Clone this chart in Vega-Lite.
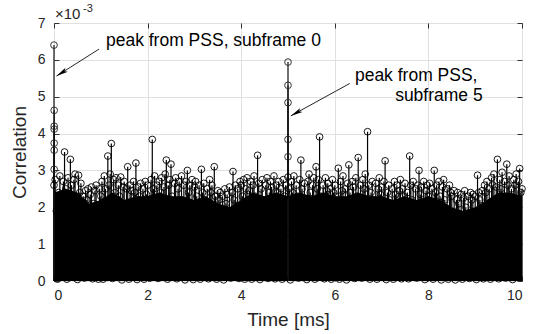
{
  "$schema": "https://vega.github.io/schema/vega-lite/v6.json",
  "width": 468,
  "height": 258,
  "autosize": {"type": "none"},
  "padding": {"left": 54, "top": 23, "right": 19, "bottom": 53},
  "background": "white",
  "config": {
    "view": {"stroke": "#333333", "strokeWidth": 1},
    "font": "Liberation Sans",
    "axis": {
      "domain": false,
      "gridColor": "#e0e0e0",
      "gridWidth": 1,
      "labelColor": "#262626",
      "labelFontSize": 14,
      "labelFont": "Liberation Sans",
      "titleColor": "#262626",
      "titleFontSize": 19,
      "titleFontWeight": "normal",
      "titleFont": "Liberation Sans",
      "tickColor": "#333333",
      "tickSize": -5
    }
  },
  "datasets": {
    "body": [
      {"t":0,"c":2.4},{"t":0.25,"c":2.5},{"t":0.5,"c":2.4},{"t":0.75,"c":2.1},{"t":1,"c":2.2},{"t":1.25,"c":2.4},{"t":1.5,"c":2.2},{"t":1.75,"c":2.3},
      {"t":2,"c":2.3},{"t":2.25,"c":2.4},{"t":2.5,"c":2.3},{"t":2.75,"c":2.3},{"t":3,"c":2.2},{"t":3.25,"c":2.3},{"t":3.5,"c":2.1},{"t":3.75,"c":2.0},
      {"t":4,"c":2.2},{"t":4.25,"c":2.4},{"t":4.5,"c":2.3},{"t":4.75,"c":2.4},{"t":5,"c":2.3},{"t":5.25,"c":2.4},{"t":5.5,"c":2.3},{"t":5.75,"c":2.4},
      {"t":6,"c":2.3},{"t":6.25,"c":2.3},{"t":6.5,"c":2.4},{"t":6.75,"c":2.3},{"t":7,"c":2.3},{"t":7.25,"c":2.2},{"t":7.5,"c":2.3},{"t":7.75,"c":2.2},
      {"t":8,"c":2.3},{"t":8.25,"c":2.2},{"t":8.5,"c":2.0},{"t":8.75,"c":1.9},{"t":9,"c":2.0},{"t":9.25,"c":2.2},{"t":9.5,"c":2.4},{"t":9.75,"c":2.4},{"t":10,"c":2.3}
    ],
    "noise": [
      {"t":0,"c":2.6},{"t":0.025,"c":2.75},{"t":0.05,"c":1.9},{"t":0.075,"c":0.05},{"t":0.1,"c":2.4},{"t":0.125,"c":2.85},{"t":0.15,"c":2.2},{"t":0.175,"c":1.3},{"t":0.2,"c":2.7},{"t":0.225,"c":3.5},
      {"t":0.25,"c":2.5},{"t":0.275,"c":0.05},{"t":0.3,"c":2.8},{"t":0.325,"c":2.3},{"t":0.35,"c":3.3},{"t":0.375,"c":2.6},{"t":0.4,"c":1.1},{"t":0.425,"c":2.75},{"t":0.45,"c":2.9},{"t":0.475,"c":2.1},
      {"t":0.5,"c":0.04},{"t":0.525,"c":2.87},{"t":0.55,"c":2.4},{"t":0.575,"c":2.65},{"t":0.6,"c":1.6},{"t":0.625,"c":2.3},{"t":0.65,"c":0.08},{"t":0.675,"c":2.45},{"t":0.7,"c":2.2},{"t":0.725,"c":2.5},
      {"t":0.75,"c":1.4},{"t":0.775,"c":2.35},{"t":0.8,"c":2.55},{"t":0.825,"c":0.06},{"t":0.85,"c":2.1},{"t":0.875,"c":2.45},{"t":0.9,"c":2.6},{"t":0.925,"c":1.8},{"t":0.95,"c":0.05},{"t":0.975,"c":2.5},
      {"t":1,"c":2.3},{"t":1.025,"c":2.7},{"t":1.05,"c":0.05},{"t":1.075,"c":2.85},{"t":1.1,"c":2.5},{"t":1.125,"c":1.7},{"t":1.15,"c":3.39},{"t":1.175,"c":2.6},{"t":1.2,"c":2.9},{"t":1.225,"c":3.73},
      {"t":1.25,"c":0.07},{"t":1.275,"c":2.75},{"t":1.3,"c":2.4},{"t":1.325,"c":2.8},{"t":1.35,"c":1.2},{"t":1.375,"c":2.6},{"t":1.4,"c":2.3},{"t":1.425,"c":2.82},{"t":1.45,"c":0.03},{"t":1.475,"c":2.55},
      {"t":1.5,"c":2.7},{"t":1.525,"c":2.1},{"t":1.55,"c":2.5},{"t":1.575,"c":3.1},{"t":1.6,"c":0.05},{"t":1.625,"c":2.6},{"t":1.65,"c":2.45},{"t":1.675,"c":1.5},{"t":1.7,"c":2.7},{"t":1.725,"c":2.4},
      {"t":1.75,"c":3.2},{"t":1.775,"c":0.04},{"t":1.8,"c":2.55},{"t":1.825,"c":2.3},{"t":1.85,"c":2.65},{"t":1.875,"c":1.9},{"t":1.9,"c":2.5},{"t":1.925,"c":0.05},{"t":1.95,"c":2.7},{"t":1.975,"c":2.35},
      {"t":2,"c":2.6},{"t":2.025,"c":2.2},{"t":2.05,"c":0.08},{"t":2.075,"c":2.75},{"t":2.1,"c":3.84},{"t":2.125,"c":2.5},{"t":2.15,"c":2.85},{"t":2.175,"c":1.4},{"t":2.2,"c":2.6},{"t":2.225,"c":0.07},
      {"t":2.25,"c":2.7},{"t":2.275,"c":2.4},{"t":2.3,"c":2.8},{"t":2.325,"c":1.8},{"t":2.35,"c":2.55},{"t":2.375,"c":2.9},{"t":2.4,"c":3.28},{"t":2.425,"c":0.05},{"t":2.45,"c":2.6},{"t":2.475,"c":2.75},
      {"t":2.5,"c":3.17},{"t":2.525,"c":2.3},{"t":2.55,"c":1.2},{"t":2.575,"c":2.65},{"t":2.6,"c":2.8},{"t":2.625,"c":0.06},{"t":2.65,"c":2.5},{"t":2.675,"c":2.7},{"t":2.7,"c":2.2},{"t":2.725,"c":2.85},
      {"t":2.75,"c":1.6},{"t":2.775,"c":2.6},{"t":2.8,"c":0.03},{"t":2.825,"c":2.7},{"t":2.85,"c":3.0},{"t":2.875,"c":2.4},{"t":2.9,"c":2.6},{"t":2.925,"c":1.9},{"t":2.95,"c":2.75},{"t":2.975,"c":0.04},
      {"t":3,"c":2.55},{"t":3.025,"c":2.7},{"t":3.05,"c":2.3},{"t":3.075,"c":1.3},{"t":3.1,"c":2.6},{"t":3.125,"c":0.05},{"t":3.15,"c":3.03},{"t":3.175,"c":2.4},{"t":3.2,"c":2.65},{"t":3.225,"c":2.2},
      {"t":3.25,"c":1.7},{"t":3.275,"c":2.5},{"t":3.3,"c":0.06},{"t":3.325,"c":2.75},{"t":3.35,"c":2.4},{"t":3.375,"c":2.6},{"t":3.4,"c":1.1},{"t":3.425,"c":3.1},{"t":3.45,"c":2.3},{"t":3.475,"c":0.05},
      {"t":3.5,"c":2.45},{"t":3.525,"c":2.2},{"t":3.55,"c":2.4},{"t":3.575,"c":1.5},{"t":3.6,"c":2.3},{"t":3.625,"c":0.03},{"t":3.65,"c":2.5},{"t":3.675,"c":2.1},{"t":3.7,"c":2.35},{"t":3.725,"c":1.8},
      {"t":3.75,"c":2.55},{"t":3.775,"c":0.08},{"t":3.8,"c":2.4},{"t":3.825,"c":2.97},{"t":3.85,"c":2.2},{"t":3.875,"c":2.6},{"t":3.9,"c":1.4},{"t":3.925,"c":2.5},{"t":3.95,"c":0.07},{"t":3.975,"c":2.7},
      {"t":4,"c":2.6},{"t":4.025,"c":2.3},{"t":4.05,"c":2.75},{"t":4.075,"c":0.05},{"t":4.1,"c":2.5},{"t":4.125,"c":2.8},{"t":4.15,"c":1.6},{"t":4.175,"c":2.45},{"t":4.2,"c":2.7},{"t":4.225,"c":0.05},
      {"t":4.25,"c":2.6},{"t":4.275,"c":2.85},{"t":4.3,"c":2.3},{"t":4.325,"c":1.2},{"t":4.35,"c":3.41},{"t":4.375,"c":2.65},{"t":4.4,"c":0.04},{"t":4.425,"c":2.5},{"t":4.45,"c":2.75},{"t":4.475,"c":2.2},
      {"t":4.5,"c":1.7},{"t":4.525,"c":2.6},{"t":4.55,"c":2.8},{"t":4.575,"c":0.07},{"t":4.6,"c":2.4},{"t":4.625,"c":2.7},{"t":4.65,"c":2.55},{"t":4.675,"c":1.5},{"t":4.7,"c":2.85},{"t":4.725,"c":0.06},
      {"t":4.75,"c":2.6},{"t":4.775,"c":2.4},{"t":4.8,"c":2.7},{"t":4.825,"c":1.9},{"t":4.85,"c":2.5},{"t":4.875,"c":0.05},{"t":4.9,"c":2.75},{"t":4.925,"c":2.3},{"t":4.95,"c":2.6},{"t":4.975,"c":1.3},
      {"t":5,"c":2.82},{"t":5.025,"c":2.5},{"t":5.05,"c":0.03},{"t":5.075,"c":2.7},{"t":5.1,"c":2.4},{"t":5.125,"c":2.85},{"t":5.15,"c":1.4},{"t":5.175,"c":2.6},{"t":5.2,"c":2.3},{"t":5.225,"c":0.08},
      {"t":5.25,"c":2.75},{"t":5.275,"c":3.28},{"t":5.3,"c":2.5},{"t":5.325,"c":1.8},{"t":5.35,"c":2.65},{"t":5.375,"c":2.2},{"t":5.4,"c":0.04},{"t":5.425,"c":2.7},{"t":5.45,"c":2.9},{"t":5.475,"c":2.4},
      {"t":5.5,"c":1.1},{"t":5.525,"c":2.6},{"t":5.55,"c":2.8},{"t":5.575,"c":0.05},{"t":5.6,"c":3.1},{"t":5.625,"c":2.5},{"t":5.65,"c":2.75},{"t":5.675,"c":3.91},{"t":5.7,"c":2.3},{"t":5.725,"c":1.6},
      {"t":5.75,"c":2.6},{"t":5.775,"c":0.06},{"t":5.8,"c":2.8},{"t":5.825,"c":2.45},{"t":5.85,"c":2.65},{"t":5.875,"c":1.3},{"t":5.9,"c":2.5},{"t":5.925,"c":0.05},{"t":5.95,"c":2.75},{"t":5.975,"c":2.4},
      {"t":6,"c":2.6},{"t":6.025,"c":2.3},{"t":6.05,"c":1.5},{"t":6.075,"c":3.06},{"t":6.1,"c":0.05},{"t":6.125,"c":2.7},{"t":6.15,"c":2.45},{"t":6.175,"c":2.85},{"t":6.2,"c":1.9},{"t":6.225,"c":2.5},
      {"t":6.25,"c":0.03},{"t":6.275,"c":2.65},{"t":6.3,"c":3.15},{"t":6.325,"c":2.4},{"t":6.35,"c":1.2},{"t":6.375,"c":2.7},{"t":6.4,"c":2.55},{"t":6.425,"c":0.07},{"t":6.45,"c":2.8},{"t":6.475,"c":2.3},
      {"t":6.5,"c":3.35},{"t":6.525,"c":1.7},{"t":6.55,"c":2.6},{"t":6.575,"c":0.08},{"t":6.6,"c":2.75},{"t":6.625,"c":2.5},{"t":6.65,"c":2.9},{"t":6.675,"c":1.4},{"t":6.7,"c":4.05},{"t":6.725,"c":2.6},
      {"t":6.75,"c":0.05},{"t":6.775,"c":2.4},{"t":6.8,"c":2.7},{"t":6.825,"c":2.2},{"t":6.85,"c":1.6},{"t":6.875,"c":2.65},{"t":6.9,"c":0.05},{"t":6.925,"c":2.5},{"t":6.95,"c":2.8},{"t":6.975,"c":2.35},
      {"t":7,"c":2.55},{"t":7.025,"c":1.3},{"t":7.05,"c":2.7},{"t":7.075,"c":3.26},{"t":7.1,"c":0.04},{"t":7.125,"c":2.4},{"t":7.15,"c":2.6},{"t":7.175,"c":2.2},{"t":7.2,"c":1.8},{"t":7.225,"c":2.5},
      {"t":7.25,"c":0.05},{"t":7.275,"c":2.7},{"t":7.3,"c":2.35},{"t":7.325,"c":2.6},{"t":7.35,"c":1.1},{"t":7.375,"c":2.45},{"t":7.4,"c":2.75},{"t":7.425,"c":0.06},{"t":7.45,"c":2.5},{"t":7.475,"c":2.3},
      {"t":7.5,"c":2.65},{"t":7.525,"c":1.6},{"t":7.55,"c":2.4},{"t":7.575,"c":0.06},{"t":7.6,"c":3.39},{"t":7.625,"c":2.6},{"t":7.65,"c":2.2},{"t":7.675,"c":2.7},{"t":7.7,"c":1.4},{"t":7.725,"c":2.5},
      {"t":7.75,"c":0.08},{"t":7.775,"c":2.6},{"t":7.8,"c":3.0},{"t":7.825,"c":2.35},{"t":7.85,"c":2.55},{"t":7.875,"c":1.9},{"t":7.9,"c":2.7},{"t":7.925,"c":0.04},{"t":7.95,"c":2.45},{"t":7.975,"c":2.6},
      {"t":8,"c":2.3},{"t":8.025,"c":2.65},{"t":8.05,"c":1.5},{"t":8.075,"c":2.5},{"t":8.1,"c":0.05},{"t":8.125,"c":3.0},{"t":8.15,"c":2.4},{"t":8.175,"c":2.6},{"t":8.2,"c":1.2},{"t":8.225,"c":2.7},
      {"t":8.25,"c":2.3},{"t":8.275,"c":0.03},{"t":8.3,"c":2.55},{"t":8.325,"c":2.75},{"t":8.35,"c":2.2},{"t":8.375,"c":1.7},{"t":8.4,"c":2.5},{"t":8.425,"c":0.05},{"t":8.45,"c":2.6},{"t":8.475,"c":2.4},
      {"t":8.5,"c":2.3},{"t":8.525,"c":1.4},{"t":8.55,"c":2.45},{"t":8.575,"c":0.03},{"t":8.6,"c":2.2},{"t":8.625,"c":2.4},{"t":8.65,"c":2.1},{"t":8.675,"c":1.6},{"t":8.7,"c":2.35},{"t":8.725,"c":0.05},
      {"t":8.75,"c":2.25},{"t":8.775,"c":2.45},{"t":8.8,"c":2.0},{"t":8.825,"c":1.3},{"t":8.85,"c":2.3},{"t":8.875,"c":0.07},{"t":8.9,"c":2.4},{"t":8.925,"c":2.2},{"t":8.95,"c":2.35},{"t":8.975,"c":1.8},
      {"t":9,"c":2.3},{"t":9.025,"c":0.04},{"t":9.05,"c":2.87},{"t":9.075,"c":2.4},{"t":9.1,"c":2.2},{"t":9.125,"c":1.5},{"t":9.15,"c":2.45},{"t":9.175,"c":0.06},{"t":9.2,"c":2.6},{"t":9.225,"c":2.4},
      {"t":9.25,"c":2.7},{"t":9.275,"c":1.2},{"t":9.3,"c":2.5},{"t":9.325,"c":0.05},{"t":9.35,"c":2.8},{"t":9.375,"c":2.6},{"t":9.4,"c":2.9},{"t":9.425,"c":1.7},{"t":9.45,"c":2.55},{"t":9.475,"c":3.3},
      {"t":9.5,"c":0.06},{"t":9.525,"c":2.75},{"t":9.55,"c":2.5},{"t":9.575,"c":2.95},{"t":9.6,"c":1.4},{"t":9.625,"c":2.7},{"t":9.65,"c":0.08},{"t":9.675,"c":3.17},{"t":9.7,"c":2.6},{"t":9.725,"c":2.85},
      {"t":9.75,"c":1.9},{"t":9.775,"c":2.5},{"t":9.8,"c":0.04},{"t":9.825,"c":2.75},{"t":9.85,"c":2.6},{"t":9.875,"c":2.9},{"t":9.9,"c":1.6},{"t":9.925,"c":2.7},{"t":9.95,"c":3.05},{"t":9.975,"c":2.4},
      {"t":10,"c":2.5}
    ],
    "peaks": [
      {"t":0,"c":6.4},{"t":0.004,"c":4.63},{"t":0.004,"c":4.2},{"t":0.004,"c":4.12},{"t":0.004,"c":3.74},{"t":0.004,"c":3.55},{"t":0.004,"c":3.03},
      {"t":5,"c":5.94},{"t":5,"c":5.31},{"t":5,"c":4.84},{"t":5,"c":3.84},{"t":5,"c":3.37}
    ],
    "notes": [
      {"t":1.11,"c":6.38,"label":"peak from PSS, subframe 0"},
      {"t":6.43,"c":5.43,"label":"peak from PSS,"},
      {"t":9.16,"c":4.89,"label":"subframe 5"}
    ],
    "arrows": [
      {"t":0.96,"c":6.29,"t2":0.053,"c2":5.56},
      {"t":6.32,"c":5.36,"t2":5.06,"c2":4.48}
    ]
  },
  "resolve": {"axis": {"x": "independent", "y": "independent"}},
  "layer": [
    {
      "data": {"name": "body"},
      "mark": {"type": "area", "color": "#000000", "opacity": 1, "interpolate": "linear"},
      "encoding": {
        "x": {"field": "t", "type": "quantitative", "scale": {"domain": [0, 10], "nice": false, "padding": 0},
              "axis": {"values": [0, 2, 4, 6, 8, 10], "title": "Time [ms]", "grid": true, "labelPadding": 12, "titlePadding": 8}},
        "y": {"field": "c", "type": "quantitative", "scale": {"domain": [0, 7], "nice": false},
              "axis": {"values": [0, 1, 2, 3, 4, 5, 6, 7], "title": "Correlation", "grid": true, "labelPadding": 14, "titlePadding": 8}},
        "y2": {"datum": 0}
      }
    },
    {
      "data": {"name": "noise"},
      "transform": [{"filter": "datum.c >= 2.0"}],
      "mark": {"type": "rule", "stroke": "#000000", "strokeWidth": 1.2},
      "encoding": {
        "x": {"field": "t", "type": "quantitative", "axis": null},
        "y": {"field": "c", "type": "quantitative", "axis": null},
        "y2": {"datum": 0}
      }
    },
    {
      "data": {"name": "peaks"},
      "mark": {"type": "rule", "color": "#111111", "strokeWidth": 1.2},
      "encoding": {
        "x": {"field": "t", "type": "quantitative",
              "axis": {"orient": "top", "values": [0, 2, 4, 6, 8, 10], "labels": false, "title": null, "grid": false}},
        "y": {"field": "c", "type": "quantitative",
              "axis": {"orient": "right", "values": [0, 1, 2, 3, 4, 5, 6, 7], "labels": false, "title": null, "grid": false}},
        "y2": {"datum": 0}
      }
    },
    {
      "data": {"name": "noise"},
      "mark": {"type": "point", "shape": "circle", "filled": false, "fill": "transparent", "stroke": "#000000", "strokeWidth": 0.9, "size": 45, "opacity": 1},
      "encoding": {
        "x": {"field": "t", "type": "quantitative", "axis": null},
        "y": {"field": "c", "type": "quantitative", "axis": null}
      }
    },
    {
      "data": {"name": "peaks"},
      "mark": {"type": "point", "shape": "circle", "filled": false, "fill": "transparent", "stroke": "#222222", "strokeWidth": 0.9, "size": 45, "opacity": 1},
      "encoding": {
        "x": {"field": "t", "type": "quantitative", "axis": null},
        "y": {"field": "c", "type": "quantitative", "axis": null}
      }
    },
    {
      "data": {"name": "arrows"},
      "mark": {"type": "rule", "color": "#262626", "strokeWidth": 1},
      "encoding": {
        "x": {"field": "t", "type": "quantitative", "axis": null},
        "y": {"field": "c", "type": "quantitative", "axis": null},
        "x2": {"field": "t2"},
        "y2": {"field": "c2"}
      }
    },
    {
      "data": {"values": [{"t": 0.053, "c": 5.56}]},
      "mark": {"type": "point", "shape": "M0,0L0.38,2L0,1.55L-0.38,2Z", "filled": true, "color": "#000000", "size": 144, "angle": 238, "opacity": 1, "strokeWidth": 0},
      "encoding": {
        "x": {"field": "t", "type": "quantitative", "axis": null},
        "y": {"field": "c", "type": "quantitative", "axis": null}
      }
    },
    {
      "data": {"values": [{"t": 5.06, "c": 4.48}]},
      "mark": {"type": "point", "shape": "M0,0L0.38,2L0,1.55L-0.38,2Z", "filled": true, "color": "#000000", "size": 144, "angle": 241, "opacity": 1, "strokeWidth": 0},
      "encoding": {
        "x": {"field": "t", "type": "quantitative", "axis": null},
        "y": {"field": "c", "type": "quantitative", "axis": null}
      }
    },
    {
      "data": {"name": "notes"},
      "transform": [{"filter": "datum.label != 'subframe 5'"}],
      "mark": {"type": "text", "align": "left", "baseline": "alphabetic", "fontSize": 17.5, "font": "Liberation Sans", "color": "#000000"},
      "encoding": {
        "x": {"field": "t", "type": "quantitative", "axis": null},
        "y": {"field": "c", "type": "quantitative", "axis": null},
        "text": {"field": "label"}
      }
    },
    {
      "data": {"name": "notes"},
      "transform": [{"filter": "datum.label == 'subframe 5'"}],
      "mark": {"type": "text", "align": "right", "baseline": "alphabetic", "fontSize": 17.5, "font": "Liberation Sans", "color": "#000000"},
      "encoding": {
        "x": {"field": "t", "type": "quantitative", "axis": null},
        "y": {"field": "c", "type": "quantitative", "axis": null},
        "text": {"field": "label"}
      }
    },
    {
      "data": {"values": [{"t": 0.02, "c": 7.11, "label": "×10"}]},
      "mark": {"type": "text", "align": "left", "baseline": "alphabetic", "fontSize": 15, "font": "Liberation Sans", "color": "#262626"},
      "encoding": {
        "x": {"field": "t", "type": "quantitative", "axis": null},
        "y": {"field": "c", "type": "quantitative", "axis": null},
        "text": {"field": "label"}
      }
    },
    {
      "data": {"values": [{"t": 0.62, "c": 7.3, "label": "-3"}]},
      "mark": {"type": "text", "align": "left", "baseline": "alphabetic", "fontSize": 11, "font": "Liberation Sans", "color": "#262626"},
      "encoding": {
        "x": {"field": "t", "type": "quantitative", "axis": null},
        "y": {"field": "c", "type": "quantitative", "axis": null},
        "text": {"field": "label"}
      }
    }
  ]
}
